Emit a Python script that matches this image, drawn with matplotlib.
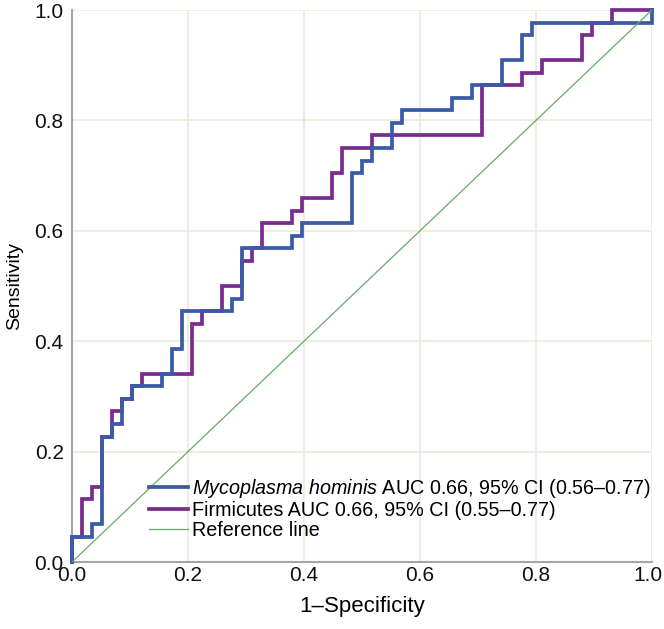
import matplotlib
matplotlib.use("Agg")
import matplotlib.pyplot as plt
from matplotlib.transforms import ScaledTranslation

plt.rcParams['font.family'] = ['Liberation Sans', 'DejaVu Sans']
plt.rcParams['mathtext.fontset'] = 'custom'
plt.rcParams['mathtext.rm'] = 'Liberation Sans'
plt.rcParams['mathtext.it'] = 'Liberation Sans:italic'

# ROC corner points (1-specificity, sensitivity)
myco_fpr = [0, 0, .034, .034, .052, .052, .069, .069, .086, .086, .103, .103,
            .155, .155, .172, .172, .190, .190, .276, .276, .293, .293, .379, .379,
            .397, .397, .483, .483, .500, .500, .517, .517, .552, .552, .569, .569,
            .655, .655, .690, .690, .741, .741, .776, .776, .793, .793, 1.0, 1.0]
myco_tpr = [0, .045, .045, .068, .068, .227, .227, .250, .250, .295, .295, .318,
            .318, .341, .341, .386, .386, .455, .455, .477, .477, .568, .568, .591,
            .591, .614, .614, .705, .705, .727, .727, .750, .750, .795, .795, .818,
            .818, .841, .841, .864, .864, .909, .909, .955, .955, .977, .977, 1.0]

firm_fpr = [0, 0, .017, .017, .034, .034, .052, .052, .069, .069, .086, .086,
            .103, .103, .121, .121, .207, .207, .224, .224, .259, .259, .293, .293,
            .310, .310, .328, .328, .379, .379, .397, .397, .448, .448, .466, .466,
            .517, .517, .707, .707, .776, .776, .810, .810, .879, .879, .897, .897,
            .931, .931, 1.0]
firm_tpr = [0, .045, .045, .114, .114, .136, .136, .227, .227, .273, .273, .295,
            .295, .318, .318, .341, .341, .432, .432, .455, .455, .500, .500, .545,
            .545, .568, .568, .614, .614, .636, .636, .659, .659, .705, .705, .750,
            .750, .773, .773, .864, .864, .886, .886, .909, .909, .955, .955, .977,
            .977, 1.0, 1.0]

ref_line = [0, 1]
ticks = [0.0, 0.2, 0.4, 0.6, 0.8, 1.0]
labels = [r'$\it{Mycoplasma\ hominis}$ AUC 0.66, 95% CI (0.56–0.77)',
          'Firmicutes AUC 0.66, 95% CI (0.55–0.77)',
          'Reference line']

fig = plt.figure(figsize=(6.64, 6.29), dpi=100)
ax = fig.add_axes([72 / 664, 1 - 562 / 629, 580 / 664, 552 / 629])

ax.plot(myco_fpr, myco_tpr, color='#3B5BA8', lw=2.7, clip_on=False,
        solid_joinstyle='miter', label=labels[0], zorder=4)
ax.plot(firm_fpr, firm_tpr, color='#7B2D8F', lw=2.7, clip_on=False,
        solid_joinstyle='miter', label=labels[1], zorder=3)
ax.plot(ref_line, ref_line, color='#66AA66', lw=0.9, label=labels[2], zorder=5)

ax.set_xlim(0, 1)
ax.set_ylim(0, 1)
ax.set_xticks(ticks)
ax.set_yticks(ticks)
ax.set_xticklabels([f'{t:.1f}' for t in ticks])
ax.set_yticklabels([f'{t:.1f}' for t in ticks])
ax.tick_params(length=0, labelsize=15, colors='#111111')
ax.tick_params(axis='x', pad=3)
ax.tick_params(axis='y', pad=6)
ax.grid(True, color='#ECEADC', lw=1.2)
ax.set_axisbelow(True)

# the last x label sits right at the image edge, nudge it in a little
last = ax.get_xticklabels()[-1]
last.set_transform(last.get_transform() + ScaledTranslation(-4 / 100, 0, fig.dpi_scale_trans))

for s in ['top', 'right']:
    ax.spines[s].set_visible(False)
for s in ['left', 'bottom']:
    ax.spines[s].set_color('#A5A5A5')
    ax.spines[s].set_linewidth(1.5)

ax.set_xlabel('1–Specificity', fontsize=16, labelpad=8)
ax.set_ylabel('Sensitivity', fontsize=14, labelpad=8)

ax.legend(loc='lower left', bbox_to_anchor=(0.133, 0.04), frameon=False,
          fontsize=14.2, handlelength=1.95, handletextpad=0.2,
          labelspacing=0.05, borderpad=0, borderaxespad=0)

fig.savefig('out.png', dpi=100)
